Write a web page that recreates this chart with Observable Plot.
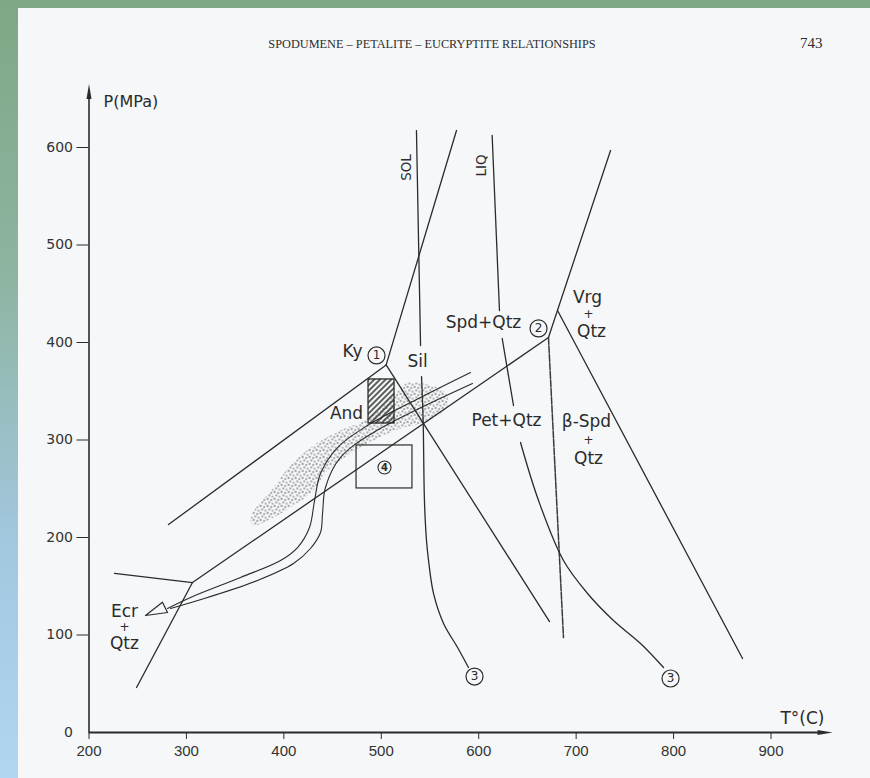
<!DOCTYPE html>
<html><head><meta charset="utf-8">
<script src="https://cdn.jsdelivr.net/npm/d3@7"></script>
<script src="https://cdn.jsdelivr.net/npm/@observablehq/plot@0.6"></script>
<style>
html,body{margin:0;padding:0;}
body{width:870px;height:778px;position:relative;overflow:hidden;background:#f5f7f8;}
#topband{position:absolute;left:0;top:0;width:870px;height:8px;background:#7ea886;}
#leftband{position:absolute;left:0;top:0;width:18px;height:778px;background:linear-gradient(#7ea886,#8db4a0 35%,#a3c7df 70%,#b2d6f1);}
#chart{position:absolute;left:0;top:0;}
.hdr{position:absolute;font-family:"Liberation Serif","DejaVu Serif",serif;color:#2e2e2e;}
g[aria-label="labels"] text{letter-spacing:1.2px;}
g[aria-label="x-axis tick label"] text{font-family:"Liberation Sans",Arial,sans-serif;}
</style></head>
<body>
<div id="topband"></div><div id="leftband"></div>
<svg width="0" height="0" style="position:absolute">
 <defs>
  <pattern id="stip" width="7" height="7" patternUnits="userSpaceOnUse">
   <rect x="0.5" y="0.8" width="1.3" height="1.3" fill="#1f1f1f"/>
   <rect x="4.1" y="1.9" width="1.2" height="1.2" fill="#1f1f1f"/>
   <rect x="2.2" y="4.3" width="1.2" height="1.2" fill="#1f1f1f"/>
   <rect x="5.5" y="5.6" width="1.1" height="1.1" fill="#1f1f1f"/>
  </pattern>
  <pattern id="hatch" width="4" height="4" patternUnits="userSpaceOnUse" patternTransform="rotate(45)">
   <line x1="1" y1="0" x2="1" y2="4" stroke="#2b2b2b" stroke-width="1.5"/>
  </pattern>
 </defs>
</svg>
<div id="chart"></div>
<div class="hdr" style="left:0;width:864px;text-align:center;top:37px;font-size:12.3px;">SPODUMENE – PETALITE – EUCRYPTITE RELATIONSHIPS</div>
<div class="hdr" style="left:800px;top:35px;font-size:15px;">743</div>
<script>
// ---- data (T in °C, P in MPa) ----
const xTicks = [200, 300, 400, 500, 600, 700, 800, 900];
const yTicks = [100, 200, 300, 400, 500, 600];

const boundaries = [
  {id: "Ky-Sil", T: 505, P: 377}, {id: "Ky-Sil", T: 577.2, P: 617.4},
  {id: "Ky-And", T: 505, P: 377}, {id: "Ky-And", T: 281.6, P: 213.3},
  {id: "And-Sil", T: 505, P: 377}, {id: "And-Sil", T: 672.7, P: 113.8},
  {id: "Spd-Pet", T: 306.2, P: 153.8}, {id: "Spd-Pet", T: 671.6, P: 405.1},
  {id: "Ecr-Spd", T: 226.2, P: 163.1}, {id: "Ecr-Spd", T: 306.2, P: 153.8},
  {id: "Ecr-Pet", T: 306.2, P: 153.8}, {id: "Ecr-Pet", T: 248.8, P: 46.2},
  {id: "Spd-Vrg", T: 671.6, P: 405.1}, {id: "Spd-Vrg", T: 735.3, P: 596.9},
  {id: "Vrg-bSpd", T: 680.9, P: 432.8}, {id: "Vrg-bSpd", T: 870.8, P: 75.9}
];
const petBSpd = [{T: 671.6, P: 405.1}, {T: 687.0, P: 97.4}];

const solidus = [
  {id: "s1", T: 536.1, P: 617.4}, {id: "s1", T: 540.3, P: 396.9},
  {id: "s2", T: 541.3, P: 365.1}, {id: "s2", T: 543.0, P: 318.0},
  {id: "s2", T: 544.3, P: 237.9}, {id: "s2", T: 546.4, P: 196.9},
  {id: "s2", T: 548.5, P: 176.4}, {id: "s2", T: 553.6, P: 142.6},
  {id: "s2", T: 563.9, P: 111.8}, {id: "s2", T: 578.3, P: 87.2},
  {id: "s2", T: 589.5, P: 66.7}
];
const liquidus = [
  {id: "l1", T: 613.8, P: 612.3}, {id: "l1", T: 621.3, P: 432.8},
  {id: "l2", T: 624.1, P: 404.1}, {id: "l2", T: 635.7, P: 335.4},
  {id: "l3", T: 642.9, P: 297.4}, {id: "l3", T: 661.4, P: 237.9},
  {id: "l3", T: 687.0, P: 176.4}, {id: "l3", T: 711.7, P: 142.6},
  {id: "l3", T: 738.3, P: 114.9}, {id: "l3", T: 766.1, P: 91.3},
  {id: "l3", T: 789.7, P: 66.7}
];
const pathA = [
  {T: 591.6, P: 369.2}, {T: 540.3, P: 343.6}, {T: 485.9, P: 314.9}, {T: 455.1, P: 292.3},
  {T: 437.6, P: 265.6}, {T: 431.5, P: 237.9}, {T: 426.3, P: 210.3}, {T: 414.0, P: 189.7},
  {T: 396.6, P: 176.4}, {T: 355.5, P: 159.0}, {T: 304.2, P: 138.5}, {T: 280.6, P: 127.2}
];
const pathB = [
  {T: 593.6, P: 357.9}, {T: 492.0, P: 307.7}, {T: 458.1, P: 282.1}, {T: 442.7, P: 251.3},
  {T: 439.7, P: 224.6}, {T: 437.6, P: 205.1}, {T: 427.3, P: 188.7}, {T: 409.9, P: 173.3},
  {T: 372.9, P: 155.9}, {T: 321.6, P: 138.5}, {T: 283.7, P: 127.2}
];
const ecrArrow = [{T: 258.0, P: 120.0}, {T: 275.4, P: 133.6}, {T: 280.6, P: 123.1}, {T: 258.0, P: 120.0}];
const stipple = [
  {T: 365.8, P: 220.5}, {T: 389.4, P: 251.3}, {T: 406.8, P: 273.8}, {T: 430.4, P: 294.4},
  {T: 458.1, P: 309.7}, {T: 485.9, P: 322.1}, {T: 516.6, P: 350.8}, {T: 526.9, P: 359.0},
  {T: 547.4, P: 356.9}, {T: 565.9, P: 348.7}, {T: 568.0, P: 335.4}, {T: 550.5, P: 320.0},
  {T: 519.7, P: 311.8}, {T: 492.0, P: 299.5}, {T: 468.4, P: 286.2}, {T: 444.8, P: 268.7},
  {T: 430.4, P: 248.2}, {T: 406.8, P: 230.8}, {T: 383.2, P: 217.4}, {T: 368.8, P: 212.3}
];
const hatchedBox = [{T1: 486.9, T2: 513.6, P1: 316.9, P2: 362.1}];
const box4 = [{T1: 474.6, T2: 532.0, P1: 250.3, P2: 294.4}];
const circledBig = [
  {n: "1", T: 495.1, P: 386.7}, {n: "2", T: 661.4, P: 414.4},
  {n: "3", T: 595.7, P: 57.4}, {n: "3", T: 796.9, P: 55.4}
];
const circledSmall = [{n: "4", T: 503.3, P: 271.8}];
const labels = [
  {text: "Ky", T: 470.5, P: 390.8}, {text: "Sil", T: 537.2, P: 380.5},
  {text: "And", T: 464.3, P: 327.2}, {text: "Spd+Qtz", T: 604.9, P: 420.5},
  {text: "Pet+Qtz", T: 628.5, P: 320.0}, {text: "β-Spd", T: 710.6, P: 319.0},
  {text: "Qtz", T: 712.7, P: 281.0},
  {text: "Vrg", T: 711.7, P: 446.2}, {text: "Qtz", T: 715.8, P: 411.3},
  {text: "Ecr", T: 236.4, P: 124.1}, {text: "Qtz", T: 236.4, P: 91.3}
];
const plusSigns = [
  {text: "+", T: 712.7, P: 299.5}, {text: "+", T: 712.7, P: 429.2}, {text: "+", T: 236.4, P: 108.2}
];
const curveNames = [{text: "SOL", T: 525.9, P: 579.5}, {text: "LIQ", T: 602.9, P: 581.5}];
const axisEnds = {yTop: 652, xRight: 955};

// ---- drawing ----
const ink = "#2b2b2b";
const paper = "#f5f7f8";
const arrowHead = {
  draw(ctx, size) {
    const r = Math.sqrt(size / Math.PI);
    ctx.moveTo(0, -r * 1.6); ctx.lineTo(r * 0.5, r * 1.4); ctx.lineTo(-r * 0.5, r * 1.4); ctx.closePath();
  }
};

const chart = Plot.plot({
  width: 870, height: 778,
  marginLeft: 88.5, marginRight: 99.5, marginTop: 147, marginBottom: 46,
  x: {domain: [200, 900]},
  y: {domain: [0, 600]},
  style: {background: "transparent", fontFamily: "DejaVu Sans, sans-serif", color: ink},
  marks: [
    Plot.line(stipple, {x: "T", y: "P", fill: "url(#stip)", stroke: "none", curve: "catmull-rom-closed"}),
    Plot.line(boundaries, {x: "T", y: "P", z: "id", stroke: ink, strokeWidth: 1.3}),
    Plot.line(petBSpd, {x: "T", y: "P", stroke: "#3a3a3a", strokeWidth: 1.5, strokeDasharray: "7,1.5"}),
    Plot.line(solidus, {x: "T", y: "P", z: "id", stroke: ink, strokeWidth: 1.3, curve: "catmull-rom"}),
    Plot.line(liquidus, {x: "T", y: "P", z: "id", stroke: ink, strokeWidth: 1.3, curve: "catmull-rom"}),
    Plot.line(pathA, {x: "T", y: "P", stroke: ink, strokeWidth: 1.1, curve: "catmull-rom"}),
    Plot.line(pathB, {x: "T", y: "P", stroke: ink, strokeWidth: 1.1, curve: "catmull-rom"}),
    Plot.line(ecrArrow, {x: "T", y: "P", stroke: ink, strokeWidth: 1.2, fill: paper}),
    Plot.rect(hatchedBox, {x1: "T1", x2: "T2", y1: "P1", y2: "P2", fill: "url(#hatch)", stroke: ink, strokeWidth: 1.3}),
    Plot.rect(box4, {x1: "T1", x2: "T2", y1: "P1", y2: "P2", fill: "none", stroke: ink, strokeWidth: 1.2}),
    // axes
    Plot.ruleX([200], {y1: 0, y2: axisEnds.yTop, stroke: ink, strokeWidth: 1.6}),
    Plot.ruleY([0], {x1: 200, x2: axisEnds.xRight, stroke: ink, strokeWidth: 1.8}),
    Plot.dot([{T: 200, P: axisEnds.yTop + 5}], {x: "T", y: "P", symbol: arrowHead, r: 5, fill: ink, stroke: "none"}),
    Plot.dot([{T: axisEnds.xRight, P: 0}], {x: "T", y: "P", symbol: arrowHead, r: 5, fill: ink, stroke: "none", rotate: 90}),
    Plot.axisX({ticks: xTicks, tickSize: 7, tickPadding: 6, fontSize: 15, label: null, stroke: ink, fill: "#333"}),
    Plot.axisY({ticks: yTicks, tickSize: 12, tickPadding: 4, fontSize: 14, label: null, stroke: ink, fill: "#333"}),
    Plot.text([{t: "0", T: 200, P: 0}], {x: "T", y: "P", text: "t", dx: -16, textAnchor: "end", fontSize: 14, fill: "#333"}),
    Plot.text([{t: "P(MPa)", T: 214.9, P: 647.2}], {x: "T", y: "P", text: "t", textAnchor: "start", fontSize: 16, fill: ink}),
    Plot.text([{t: "T°(C)", T: 932.3, P: 14.4}], {x: "T", y: "P", text: "t", fontSize: 17, fill: ink, ariaLabel: "labels"}),
    // labels
    Plot.text(labels, {x: "T", y: "P", text: "text", fontSize: 17, fill: ink, ariaLabel: "labels"}),
    Plot.text(plusSigns, {x: "T", y: "P", text: "text", fontSize: 12, fill: ink}),
    Plot.text(curveNames, {x: "T", y: "P", text: "text", fontSize: 13.5, rotate: -90, fill: ink, ariaLabel: "labels"}),
    Plot.dot(circledBig, {x: "T", y: "P", r: 8.5, fill: paper, stroke: ink, strokeWidth: 1.2}),
    Plot.dot(circledSmall, {x: "T", y: "P", r: 6.5, fill: paper, stroke: ink, strokeWidth: 1.1}),
    Plot.text(circledBig, {x: "T", y: "P", text: "n", fontSize: 12, fill: ink}),
    Plot.text(circledSmall, {x: "T", y: "P", text: "n", fontSize: 10, fontWeight: "bold", fill: ink})
  ]
});
document.getElementById("chart").appendChild(chart);
</script>
</body></html>
